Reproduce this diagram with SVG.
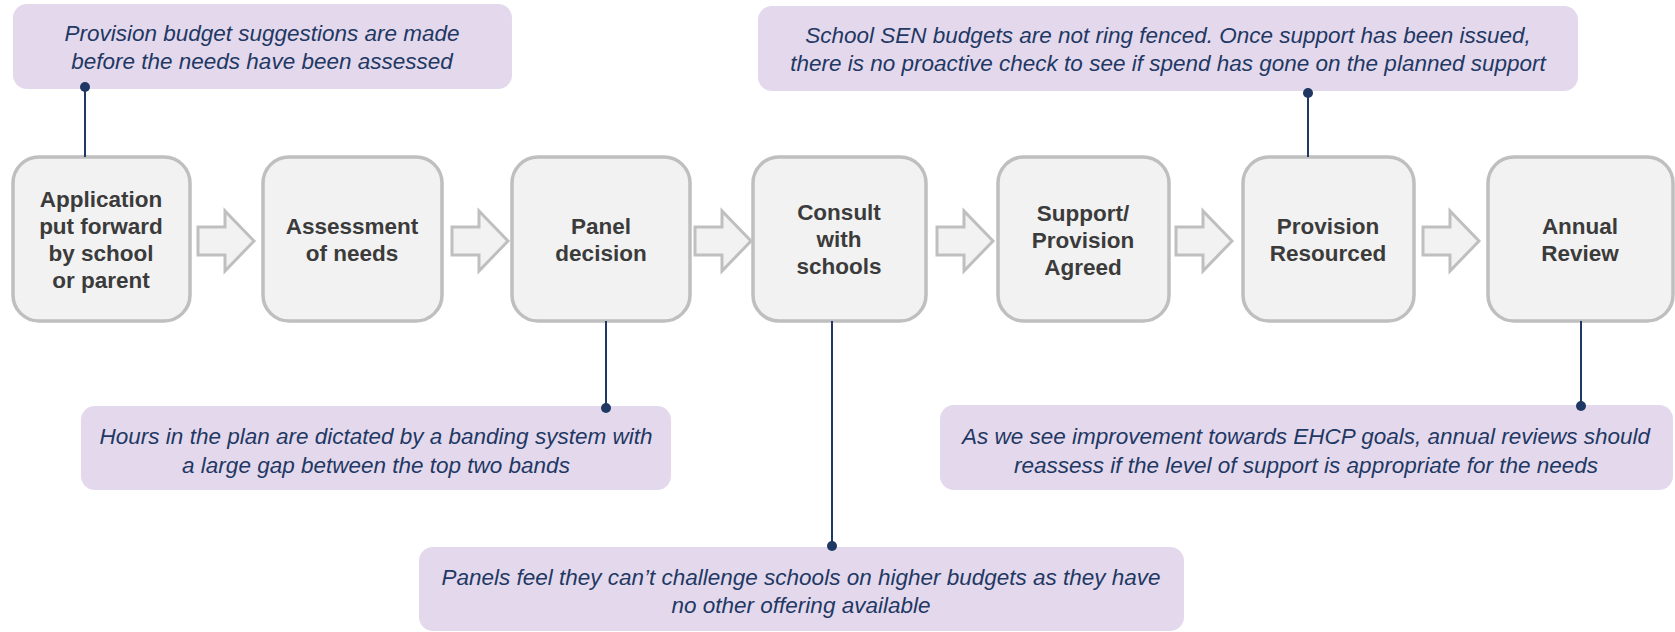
<svg xmlns="http://www.w3.org/2000/svg" width="1675" height="632" viewBox="0 0 1675 632">
  <style>
    .step rect { fill: #f2f2f2; stroke: #bfbfbf; stroke-width: 3.5; }
    .step text { font-family: "Liberation Sans", Arial, sans-serif; font-weight: bold; font-size: 22.5px; fill: #3b3b3b; text-anchor: middle; }
    .note rect { fill: #e4d9ec; }
    .note text { font-family: "Liberation Sans", Arial, sans-serif; font-style: italic; font-size: 22.5px; fill: #1f3864; text-anchor: middle; }
    .flow use { fill: #f2f2f2; stroke: #bfbfbf; stroke-width: 3; stroke-linejoin: miter; }
    .link line { stroke: #1f3864; stroke-width: 2; }
    .link circle { fill: #1f3864; }
  </style>
  <defs>
    <!-- block arrow, origin at the tail, centred on y=0 -->
    <path id="blockArrow" d="M0,-14 H27 V-30 L56,0 L27,30 V14 H0 Z"/>
  </defs>

  <!-- callout notes -->
  <g id="note-budget" class="note">
    <rect x="13" y="4" width="499" height="85" rx="14"/>
    <text x="262" y="41">Provision budget suggestions are made</text>
    <text x="262" y="69">before the needs have been assessed</text>
  </g>
  <g id="note-ringfence" class="note">
    <rect x="758" y="6" width="820" height="85" rx="14"/>
    <text x="1168" y="43">School SEN budgets are not ring fenced. Once support has been issued,</text>
    <text x="1168" y="71">there is no proactive check to see if spend has gone on the planned support</text>
  </g>
  <g id="note-banding" class="note">
    <rect x="81" y="406" width="590" height="84" rx="14"/>
    <text x="376" y="444">Hours in the plan are dictated by a banding system with</text>
    <text x="376" y="473">a large gap between the top two bands</text>
  </g>
  <g id="note-challenge" class="note">
    <rect x="419" y="547" width="765" height="84" rx="14"/>
    <text x="801" y="585">Panels feel they can’t challenge schools on higher budgets as they have</text>
    <text x="801" y="613">no other offering available</text>
  </g>
  <g id="note-review" class="note">
    <rect x="940" y="405" width="733" height="85" rx="14"/>
    <text x="1306" y="444">As we see improvement towards EHCP goals, annual reviews should</text>
    <text x="1306" y="473">reassess if the level of support is appropriate for the needs</text>
  </g>

  <!-- process steps -->
  <g id="step-application" class="step">
    <rect x="13" y="157" width="177" height="164" rx="26"/>
    <text x="101" y="207">Application</text>
    <text x="101" y="234">put forward</text>
    <text x="101" y="261">by school</text>
    <text x="101" y="288">or parent</text>
  </g>
  <g id="step-assessment" class="step">
    <rect x="263" y="157" width="179" height="164" rx="26"/>
    <text x="352" y="234">Assessment</text>
    <text x="352" y="261">of needs</text>
  </g>
  <g id="step-panel" class="step">
    <rect x="512" y="157" width="178" height="164" rx="26"/>
    <text x="601" y="234">Panel</text>
    <text x="601" y="261">decision</text>
  </g>
  <g id="step-consult" class="step">
    <rect x="753" y="157" width="173" height="164" rx="26"/>
    <text x="839" y="220">Consult</text>
    <text x="839" y="247">with</text>
    <text x="839" y="274">schools</text>
  </g>
  <g id="step-agreed" class="step">
    <rect x="998" y="157" width="171" height="164" rx="26"/>
    <text x="1083" y="221">Support/</text>
    <text x="1083" y="248">Provision</text>
    <text x="1083" y="275">Agreed</text>
  </g>
  <g id="step-resourced" class="step">
    <rect x="1243" y="157" width="171" height="164" rx="26"/>
    <text x="1328" y="234">Provision</text>
    <text x="1328" y="261">Resourced</text>
  </g>
  <g id="step-review" class="step">
    <rect x="1488" y="157" width="185" height="164" rx="26"/>
    <text x="1580" y="234">Annual</text>
    <text x="1580" y="261">Review</text>
  </g>

  <!-- connectors -->
  <g id="connectors">
    <g class="flow">
      <use href="#blockArrow" x="198" y="241"/>
      <use href="#blockArrow" x="452" y="241"/>
      <use href="#blockArrow" x="695" y="241"/>
      <use href="#blockArrow" x="937" y="241"/>
      <use href="#blockArrow" x="1176" y="241"/>
      <use href="#blockArrow" x="1423" y="241"/>
    </g>
    <g class="link">
      <line x1="85" y1="87" x2="85" y2="157"/>
      <circle cx="85" cy="87" r="5"/>
      <line x1="1308" y1="93" x2="1308" y2="157"/>
      <circle cx="1308" cy="93" r="5"/>
      <line x1="606" y1="321" x2="606" y2="408"/>
      <circle cx="606" cy="408" r="5"/>
      <line x1="832" y1="321" x2="832" y2="546"/>
      <circle cx="832" cy="546" r="5"/>
      <line x1="1581" y1="321" x2="1581" y2="406"/>
      <circle cx="1581" cy="406" r="5"/>
    </g>
  </g>
</svg>
